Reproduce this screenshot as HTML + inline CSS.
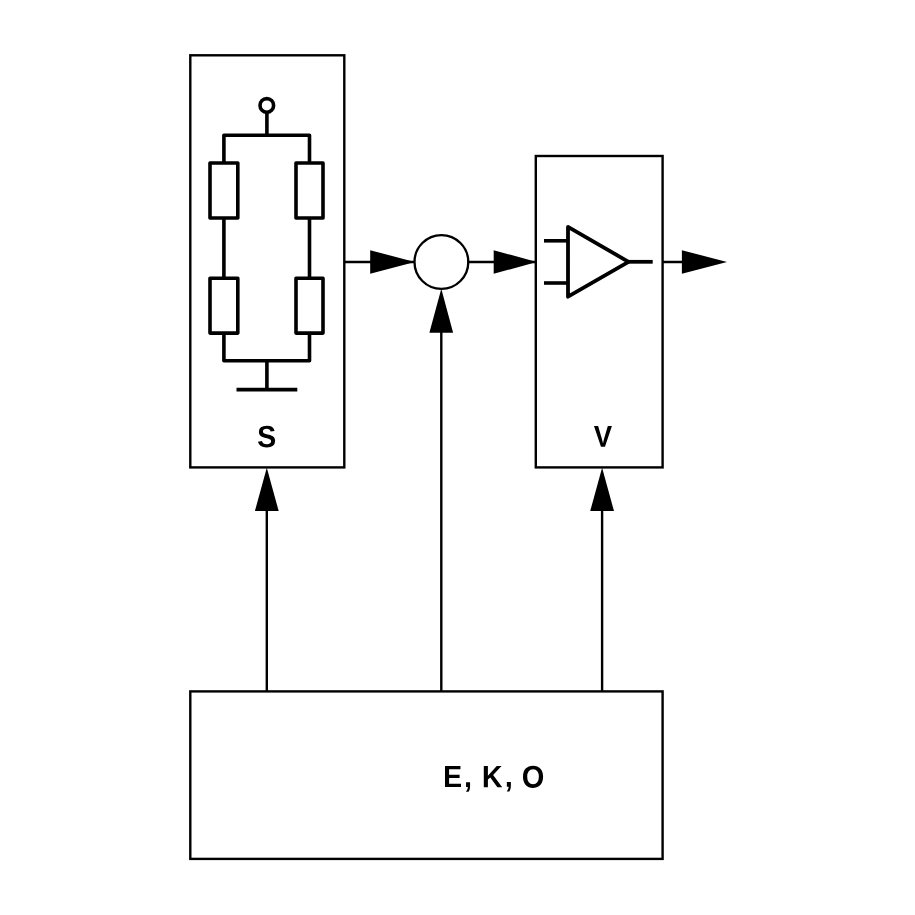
<!DOCTYPE html>
<html>
<head>
<meta charset="utf-8">
<style>
html,body{margin:0;padding:0;background:#fff;width:915px;height:915px;overflow:hidden;}
svg{display:block;}
text{font-family:"Liberation Sans",sans-serif;font-weight:bold;fill:#000;}
</style>
</head>
<body>
<svg width="915" height="915" viewBox="0 0 915 915">
<rect x="0" y="0" width="915" height="915" fill="#fff"/>
<g fill="none" stroke="#000" stroke-width="2.4">
  <!-- boxes -->
  <rect x="190.3" y="55.3" width="154" height="412.1"/>
  <rect x="535.8" y="156" width="126.8" height="311.4"/>
  <rect x="190.3" y="691.4" width="472.3" height="167.5"/>
  <!-- signal lines -->
  <line x1="344.3" y1="262" x2="415" y2="262"/>
  <line x1="467" y1="262" x2="536" y2="262"/>
  <line x1="662.6" y1="262" x2="700" y2="262"/>
  <line x1="266.8" y1="510" x2="266.8" y2="691.4"/>
  <line x1="441.3" y1="300" x2="441.3" y2="691.4"/>
  <line x1="602.1" y1="510" x2="602.1" y2="691.4"/>
</g>
<circle cx="441.4" cy="262" r="26.9" fill="none" stroke="#000" stroke-width="2.3"/>
<g fill="#000" stroke="none">
  <polygon points="370.2,250.2 414.8,262 370.2,273.8"/>
  <polygon points="493.7,250.2 536.7,262 493.7,273.8"/>
  <polygon points="681.9,250.2 727,262 681.9,273.8"/>
  <polygon points="254.9,511.1 266.8,467.7 278.7,511.1"/>
  <polygon points="429.4,332.7 441.3,288.8 453.1,332.7"/>
  <polygon points="590.2,511.1 602.1,467.7 614,511.1"/>
</g>
<!-- bridge -->
<g fill="none" stroke="#000" stroke-width="3.6" stroke-linejoin="round">
  <circle cx="266.8" cy="105.4" r="6.8"/>
  <line x1="266.9" y1="112" x2="266.9" y2="135.2"/>
  <polyline points="223.9,163 223.9,135.2 309.5,135.2 309.5,163"/>
  <rect x="210" y="163" width="27.8" height="55"/>
  <rect x="296" y="163" width="27" height="55"/>
  <line x1="223.9" y1="218" x2="223.9" y2="278.2"/>
  <line x1="309.5" y1="218" x2="309.5" y2="278.2"/>
  <rect x="210" y="278.2" width="27.8" height="54.9"/>
  <rect x="296" y="278.2" width="27" height="54.9"/>
  <polyline points="223.9,333.1 223.9,360.8 309.5,360.8 309.5,333.1"/>
  <line x1="266.9" y1="360.8" x2="266.9" y2="389.6"/>
  <line x1="236.5" y1="389.6" x2="297.3" y2="389.6"/>
  <!-- amplifier -->
  <polygon points="568,226.9 628.5,261.8 568,296.7" stroke-width="3.8"/>
  <line x1="544" y1="240.8" x2="568" y2="240.8"/>
  <line x1="544" y1="283" x2="568" y2="283"/>
  <line x1="628" y1="261.8" x2="652.7" y2="261.8" stroke-width="3.75"/>
</g>
<g fill="#000">
<path transform="matrix(0.01394 0 0 -0.01503 257.18 447.20)" d="M1286 406Q1286 199 1132.5 89.5Q979 -20 682 -20Q411 -20 257.0 76.0Q103 172 59 367L344 414Q373 302 457.0 251.5Q541 201 690 201Q999 201 999 389Q999 449 963.5 488.0Q928 527 863.5 553.0Q799 579 616 616Q458 653 396.0 675.5Q334 698 284.0 728.5Q234 759 199.0 802.0Q164 845 144.5 903.0Q125 961 125 1036Q125 1227 268.5 1328.5Q412 1430 686 1430Q948 1430 1079.5 1348.0Q1211 1266 1249 1077L963 1038Q941 1129 873.5 1175.0Q806 1221 680 1221Q412 1221 412 1053Q412 998 440.5 963.0Q469 928 525.0 903.5Q581 879 752 842Q955 799 1042.5 762.5Q1130 726 1181.0 677.5Q1232 629 1259.0 561.5Q1286 494 1286 406Z"/>
<path transform="matrix(0.01338 0 0 -0.01476 593.81 446.80)" d="M834 0H535L14 1409H322L612 504Q639 416 686 238L707 324L758 504L1047 1409H1352Z"/>
<path transform="matrix(0.01393 0 0 -0.01501 443.09 787.05)" d="M137 0V1409H1245V1181H432V827H1184V599H432V228H1286V0Z"/>
<path transform="matrix(0.01391 0 0 -0.01498 481.89 787.20)" d="M1112 0 606 647 432 514V0H137V1409H432V770L1067 1409H1411L809 813L1460 0Z"/>
<path transform="matrix(0.01413 0 0 -0.01531 521.81 787.59)" d="M1507 711Q1507 491 1420.0 324.0Q1333 157 1171.0 68.5Q1009 -20 793 -20Q461 -20 272.5 175.5Q84 371 84 711Q84 1050 272.0 1240.0Q460 1430 795 1430Q1130 1430 1318.5 1238.0Q1507 1046 1507 711ZM1206 711Q1206 939 1098.0 1068.5Q990 1198 795 1198Q597 1198 489.0 1069.5Q381 941 381 711Q381 479 491.5 345.5Q602 212 793 212Q991 212 1098.5 342.0Q1206 472 1206 711Z"/>
<path transform="matrix(0.01393 0 0 -0.01501 464.06 786.94)" d="M432 66Q432 -54 406.5 -146.0Q381 -238 324 -317H139Q198 -246 235.0 -161.0Q272 -76 272 0H143V305H432Z"/>
<path transform="matrix(0.01393 0 0 -0.01501 504.86 786.64)" d="M432 66Q432 -54 406.5 -146.0Q381 -238 324 -317H139Q198 -246 235.0 -161.0Q272 -76 272 0H143V305H432Z"/>
</g>
</svg>
</body>
</html>
